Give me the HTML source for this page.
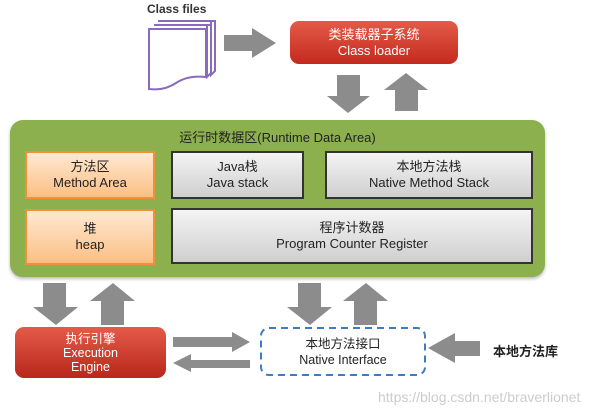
<!DOCTYPE html>
<html><head><meta charset="utf-8"><style>
body{margin:0;width:616px;height:416px;background:#fff;position:relative;overflow:hidden;font-family:"Liberation Sans","Noto Sans CJK SC",sans-serif}
.a{position:absolute}
.box{position:absolute;display:flex;flex-direction:column;align-items:center;justify-content:center;text-align:center;font-size:13px;line-height:16px;color:#222;box-sizing:border-box}
.g{background:linear-gradient(#f4f4f4,#cfcfcf);border:2px solid #333}
.o{background:linear-gradient(#ffe9d2,#fbbf85);border:2px solid #f0913a}
</style></head><body>
<div class="a" style="left:10px;top:120px;width:535px;height:157px;border-radius:13px;background:#8db04e;box-shadow:0 2px 3px #bbb"></div>
<div class="a" style="left:147px;top:2px;font-size:12px;font-weight:bold;color:#333">Class files</div>
<svg class="a" style="left:0;top:0" width="616" height="416">
<g fill="none" stroke="#8a6bbb" stroke-width="2">
<path d="M158 21h57v50l-4 4V21" />
<path d="M154 25h57v48l-4 4V25"/>
<path d="M149 29h57v48q-18-2-30 6t-27 6z" fill="#fff"/>
</g>
<g fill="#8c8c8c">
<polygon points="224,35 252,35 252,28 276,43 252,58 252,51 224,51"/>
<polygon points="337,75 360,75 360,96 370,96 348,113 327,96 337,96"/>
<polygon points="395,111 418,111 418,90 428,90 406,73 384,90 395,90"/>
<polygon points="43,283 66,283 66,307 78,307 56,325 33,307 43,307"/>
<polygon points="101,325 124,325 124,301 135,301 113,283 90,301 101,301"/>
<polygon points="298,283 321,283 321,307 332,307 310,325 287,307 298,307"/>
<polygon points="354,325 377,325 377,301 388,301 366,283 343,301 354,301"/>
<polygon points="173,337 232,337 232,332 250,342 232,352 232,347 173,347"/>
<polygon points="250,360 191,360 191,354 173,363 191,372 191,368 250,368"/>
<polygon points="480,341 455,341 455,333 428,348 455,363 455,356 480,356"/>
</g>
<rect x="261" y="328" width="164" height="47" rx="8" fill="#fff" stroke="#3e7cc1" stroke-width="2" stroke-dasharray="7,5"/>
</svg>
<div class="box" style="left:290px;top:21px;width:168px;height:43px;border-radius:9px;background:linear-gradient(#e45a48,#c32a1e);color:#fff;font-size:13px">类装载器子系统<br>Class loader</div>
<div class="a" style="left:10px;top:127px;width:535px;text-align:center;font-size:13px;color:#222">运行时数据区(Runtime Data Area)</div>
<div class="box o" style="left:25px;top:151px;width:130px;height:48px">方法区<br>Method Area</div>
<div class="box g" style="left:171px;top:151px;width:133px;height:48px">Java栈<br>Java stack</div>
<div class="box g" style="left:325px;top:151px;width:208px;height:48px">本地方法栈<br>Native Method Stack</div>
<div class="box o" style="left:25px;top:209px;width:130px;height:56px">堆<br>heap</div>
<div class="box g" style="left:171px;top:208px;width:362px;height:56px">程序计数器<br>Program Counter Register</div>
<div class="box" style="left:15px;top:327px;width:151px;height:51px;border-radius:9px;background:linear-gradient(#e45a48,#b8281c);color:#fff;font-size:12.5px;line-height:14px">执行引擎<br>Execution<br>Engine</div>
<div class="box" style="left:261px;top:328px;width:164px;height:47px;font-size:12.5px">本地方法接口<br>Native Interface</div>
<div class="a" style="left:493px;top:341px;font-size:13px;font-weight:bold;color:#222">本地方法库</div>
<div class="a" style="left:378px;top:389px;font-size:14px;color:#ccc">https://blog.csdn.net/braverlionet</div>
</body></html>
